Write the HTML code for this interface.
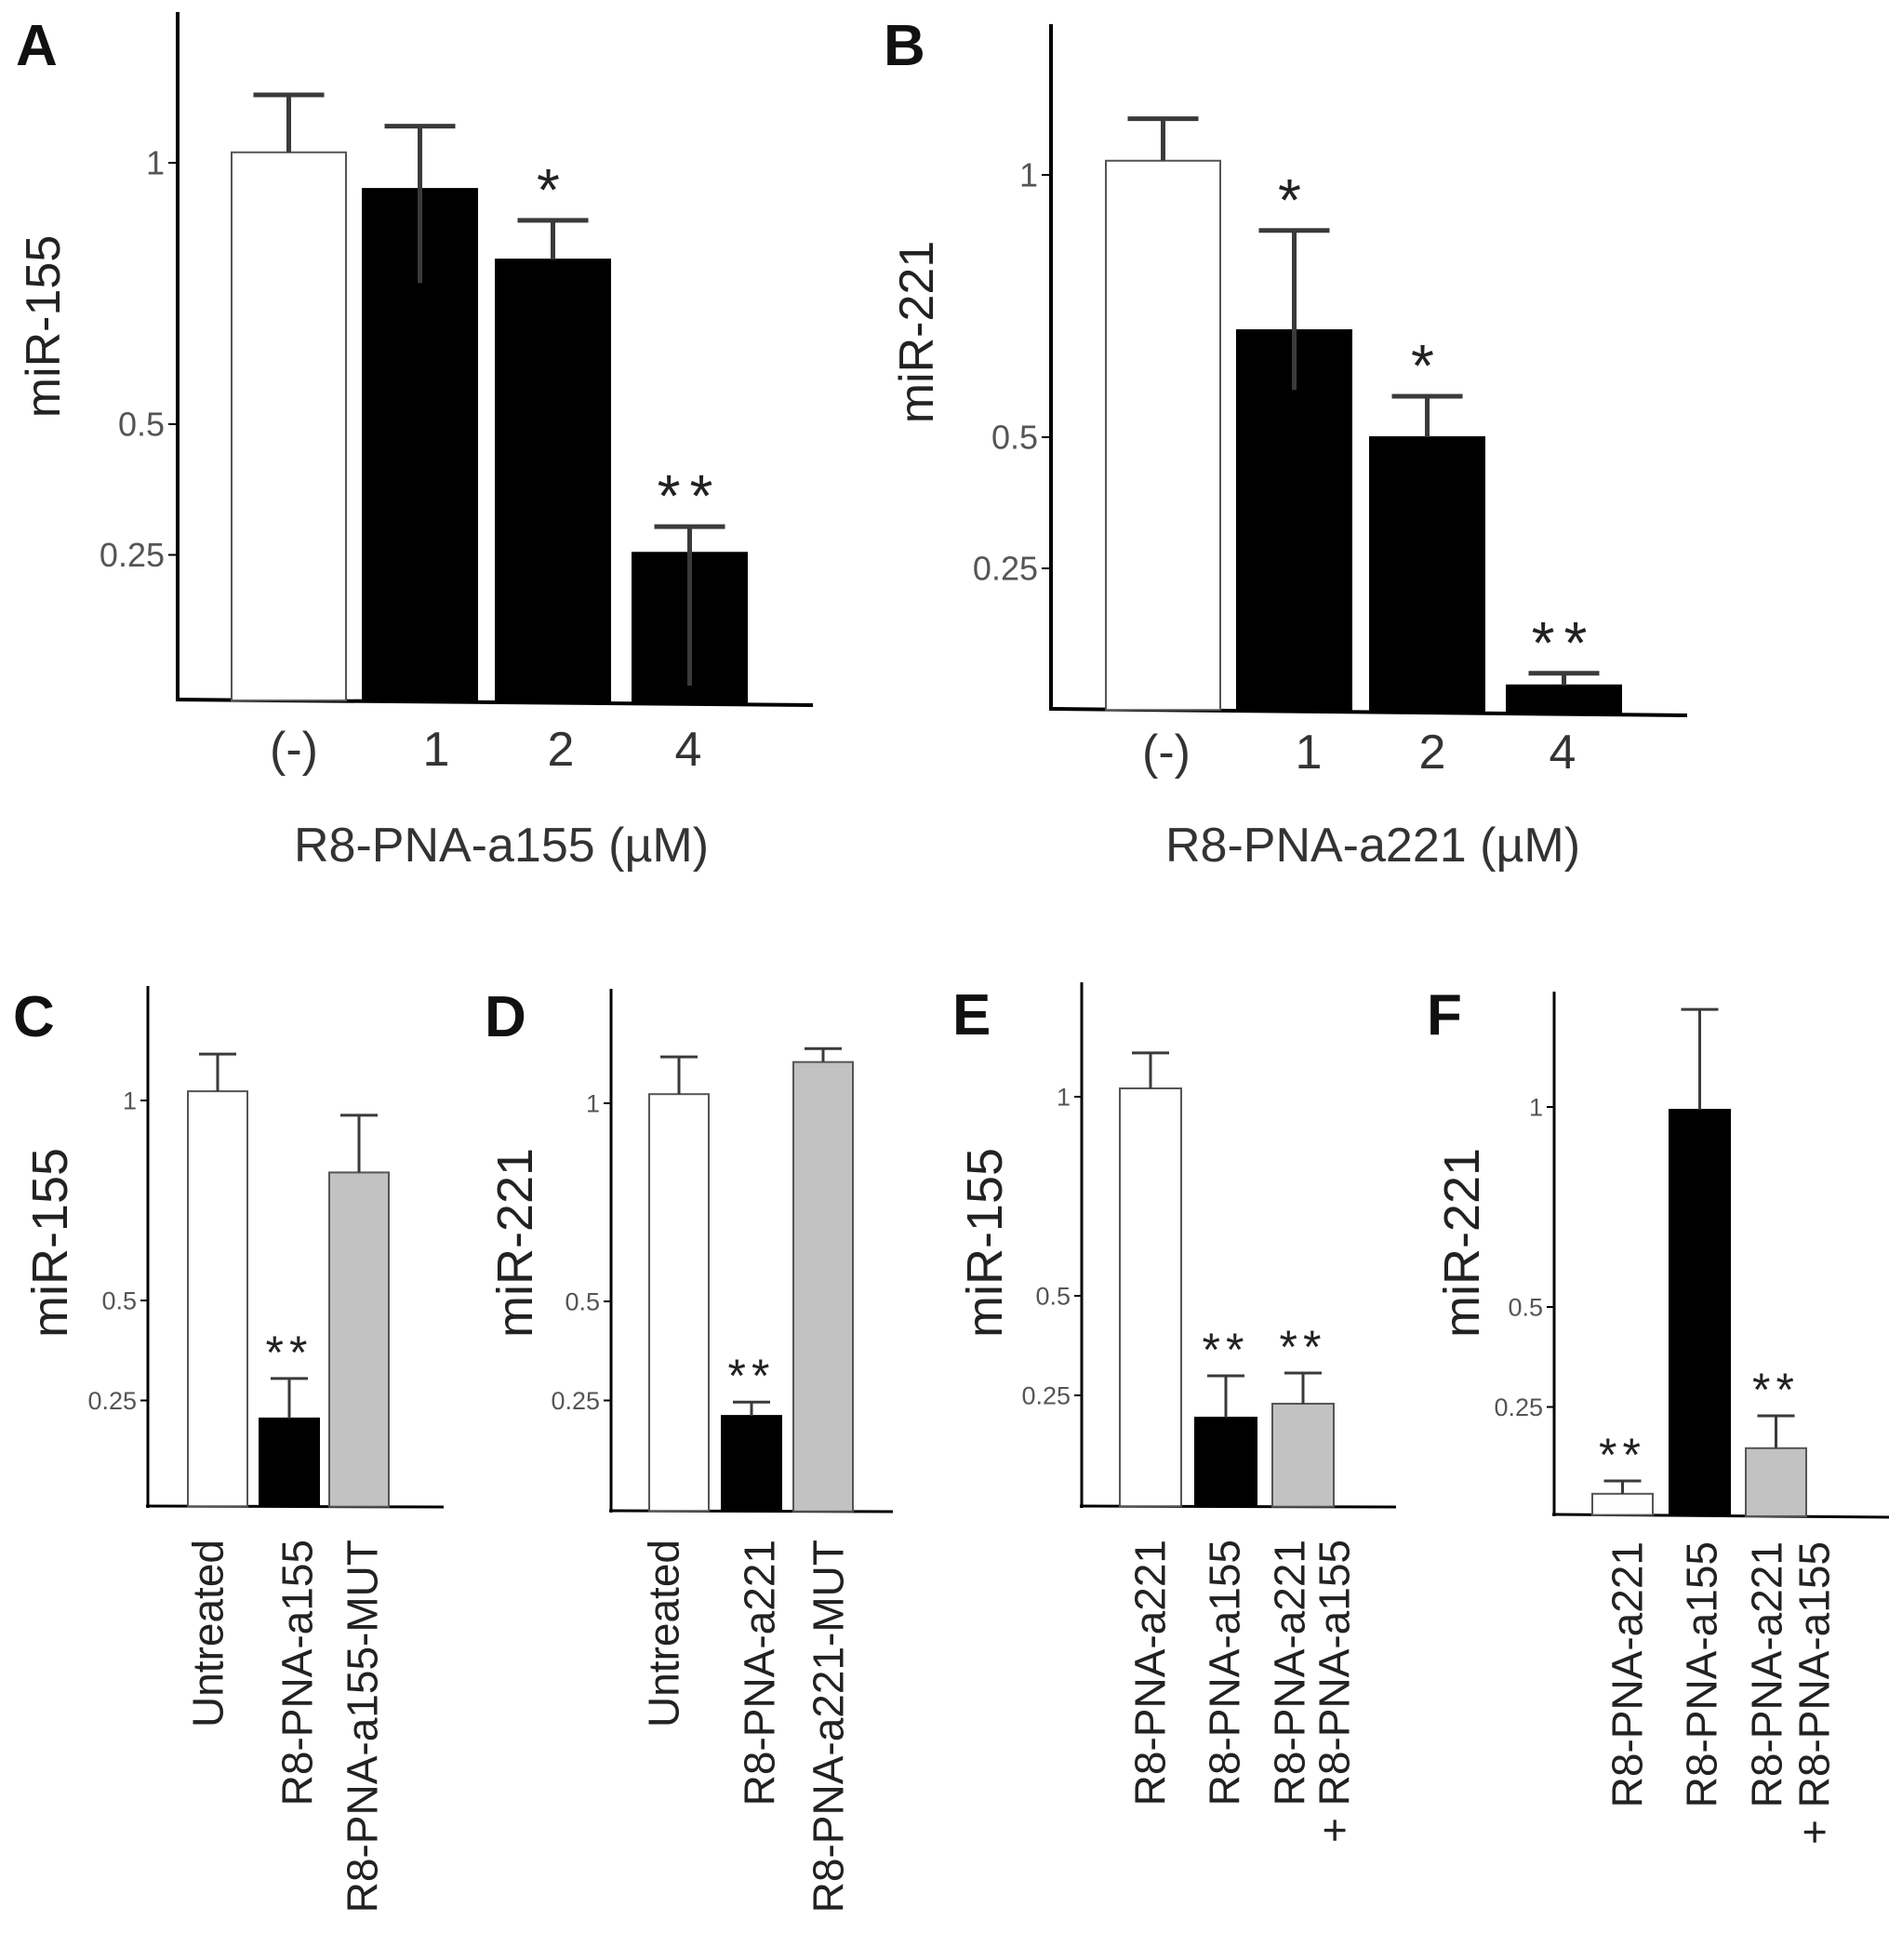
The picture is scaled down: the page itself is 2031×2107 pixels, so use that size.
<!DOCTYPE html>
<html><head><meta charset="utf-8"><style>
html,body{margin:0;padding:0;background:#fff;}
svg{display:block;font-family:"Liberation Sans",sans-serif;}
</style></head><body>
<svg id="fig" width="2031" height="2107" viewBox="0 0 2031 2107" xmlns="http://www.w3.org/2000/svg"></svg>
<script>
// ---- data arrays ----
const catsA = ["(-)", "1", "2", "4"];
const valsA = [1.02, 0.95, 0.815, 0.254];
const errA = [0.11, 0.12, 0.075, 0.05];
const errLowA = [0, 0.18, 0, 0.254];
const fillA = ["white", "black", "black", "black"];
const starsA = ["", "", "*", "**"];

const catsB = ["(-)", "1", "2", "4"];
const valsB = [1.027, 0.704, 0.5, 0.027];
const errB = [0.08, 0.19, 0.078, 0.023];
const errLowB = [0, 0.114, 0, 0];
const fillB = ["white", "black", "black", "black"];
const starsB = ["", "*", "*", "**"];

const catsC = [["Untreated"], ["R8-PNA-a155"], ["R8-PNA-a155-MUT"]];
const valsC = [1.023, 0.205, 0.82];
const errC = [0.093, 0.1, 0.143];
const fillC = ["white", "black", "gray"];
const starsC = ["", "**", ""];

const catsD = [["Untreated"], ["R8-PNA-a221"], ["R8-PNA-a221-MUT"]];
const valsD = [1.023, 0.211, 1.104];
const errD = [0.094, 0.035, 0.034];
const fillD = ["white", "black", "gray"];
const starsD = ["", "**", ""];

const catsE = [["R8-PNA-a221"], ["R8-PNA-a155"], ["R8-PNA-a221", "+ R8-PNA-a155"]];
const valsE = [1.021, 0.194, 0.229];
const errE = [0.089, 0.105, 0.077];
const fillE = ["white", "black", "gray"];
const starsE = ["", "**", "**"];

const catsF = [["R8-PNA-a221"], ["R8-PNA-a155"], ["R8-PNA-a221", "+ R8-PNA-a155"]];
const valsF = [0.033, 0.993, 0.147];
const errF = [0.032, 0.251, 0.081];
const fillF = ["white", "black", "gray"];
const starsF = ["**", "", "**"];

const ticks = [1, 0.5, 0.25];
const tickLabels = ["1", "0.5", "0.25"];

const NS = "http://www.w3.org/2000/svg";
const svg = document.getElementById("fig");
function mk(tag, attrs, parent, text) {
  const e = document.createElementNS(NS, tag);
  for (const k in attrs) e.setAttribute(k, attrs[k]);
  if (text !== undefined) e.textContent = text;
  (parent || svg).appendChild(e);
  return e;
}

function panel(p) {
  const g = mk("g", {});
  
  
  const y = v => p.zeroY - v * p.k;
  const L = mk("text", {x: p.letterX, y: p.letterY, "font-size": p.letterSize, "font-weight": "bold", fill: "#111"}, g, p.id);
  
  
  const ya = mk("line", {x1: p.ax, y1: p.top, x2: p.ax, y2: p.base + 2, stroke: "#000", "stroke-width": p.axW}, g);
  
  
  const xa = mk("line", {x1: p.ax - 2, y1: p.base, x2: p.right, y2: p.baseR, stroke: "#000", "stroke-width": p.axW}, g);
  
  
  ticks.forEach((t, i) => {
    const tk = mk("line", {x1: p.ax - p.tickLen, y1: y(t), x2: p.ax, y2: y(t), stroke: "#000", "stroke-width": 2}, g);
    
    
    const tl = mk("text", {x: p.ax - p.tickLen - 4, y: y(t) + p.tickFont * 0.35, "font-size": p.tickFont, fill: "#555", "text-anchor": "end"}, g, tickLabels[i]);
    
    
  });
  const yt = mk("text", {x: 0, y: 0, "font-size": p.yFont, fill: "#222", "text-anchor": "middle",
    transform: `translate(${p.yTitleX},${p.yTitleY}) rotate(-90)`}, g, p.yTitle);
  
  
  p.vals.forEach((v, i) => {
    const x0 = p.barX[i], w = p.barW;
    const top = y(v);
    const baseAt = p.base + (p.baseR - p.base) * ((x0 + w / 2 - p.ax) / (p.right - p.ax));
    const col = p.fill[i] === "white" ? "#fff" : p.fill[i] === "black" ? "#000" : "#c2c2c2";
    const stroke = p.fill[i] === "black" ? "#000" : "#555";
    const b = mk("rect", {x: x0, y: top, width: w, height: Math.max(0, baseAt - top), fill: col, stroke: stroke, "stroke-width": 2}, g);
    
    
    const cx = x0 + w / 2;
    const eTop = y(v + p.err[i]);
    const eLow = p.errLow ? y(v - p.errLow[i]) : top;
    const eg = mk("g", {stroke: "#3a3a3a", "stroke-width": p.errW}, g);
    
    
    mk("line", {x1: cx, y1: eTop, x2: cx, y2: Math.max(eLow, top)}, eg);
    mk("line", {x1: cx - p.cap / 2, y1: eTop, x2: cx + p.cap / 2, y2: eTop}, eg);
    if (p.stars[i]) {
      const st = mk("text", {x: cx, y: eTop - p.starGap, "font-size": p.starFont, fill: "#222", "text-anchor": "middle", "letter-spacing": p.starSp}, g, p.stars[i]);
      
      
    }
    const cat = p.cats[i];
    if (p.rotated) {
      cat.forEach((line, j) => {
        const lx = p.labX[i] + (cat.length > 1 ? j * p.lineGap : 0) + p.xFont * 0.36;
        const t = mk("text", {x: 0, y: 0, "font-size": p.xFont, fill: "#222", "text-anchor": "end",
          transform: `translate(${lx},${p.labTop}) rotate(-90)`}, g, line);
        
        
      });
    } else {
      const t = mk("text", {x: p.labX[i], y: p.labY, "font-size": p.xFont, fill: "#333", "text-anchor": "middle"}, g, cat);
      
      
    }
  });
  if (p.xTitle) {
    const xt = mk("text", {x: p.xTitleX, y: p.xTitleY, "font-size": p.xFont, fill: "#333", "text-anchor": "middle"}, g, p.xTitle);
    
    
  }
}

panel({id: "A", letterX: 17, letterY: 70, letterSize: 62, ax: 191, top: 13, base: 752, baseR: 758, right: 874,
  zeroY: 737, k: 562, tickLen: 10, tickFont: 36, axW: 4, yTitle: "miR-155", yTitleX: 64, yTitleY: 351, yFont: 52,
  vals: valsA, err: errA, errLow: errLowA, fill: fillA, stars: starsA, cats: catsA, barX: [249, 390, 533, 680], barW: 123,
  errW: 5, cap: 76, starFont: 64, starSp: 10, starGap: 11, rotated: false, labX: [316, 469, 603, 740], labY: 823, xFont: 52,
  xTitle: "R8-PNA-a155 (µM)", xTitleX: 539, xTitleY: 926});

panel({id: "B", letterX: 950, letterY: 70, letterSize: 62, ax: 1130, top: 26, base: 762, baseR: 769, right: 1814,
  zeroY: 752, k: 564, tickLen: 10, tickFont: 36, axW: 4, yTitle: "miR-221", yTitleX: 1003, yTitleY: 357, yFont: 52,
  vals: valsB, err: errB, errLow: errLowB, fill: fillB, stars: starsB, cats: catsB, barX: [1189, 1330, 1473, 1620], barW: 123,
  errW: 5, cap: 76, starFont: 64, starSp: 10, starGap: 11, rotated: false, labX: [1254, 1407, 1540, 1680], labY: 826, xFont: 52,
  xTitle: "R8-PNA-a221 (µM)", xTitleX: 1476, xTitleY: 926});

panel({id: "C", letterX: 14, letterY: 1114, letterSize: 62, ax: 159, top: 1060, base: 1619, baseR: 1620, right: 477,
  zeroY: 1613, k: 430, tickLen: 8, tickFont: 27, axW: 3, yTitle: "miR-155", yTitleX: 72, yTitleY: 1336, yFont: 54,
  vals: valsC, err: errC, fill: fillC, stars: starsC, cats: catsC, barX: [202, 279, 354], barW: 64,
  errW: 3, cap: 40, starFont: 50, starSp: 6, starGap: 11, rotated: true, labX: [223, 319, 389], labTop: 1655, lineGap: 48, xFont: 46});

panel({id: "D", letterX: 521, letterY: 1114, letterSize: 62, ax: 657, top: 1063, base: 1624, baseR: 1625, right: 960,
  zeroY: 1612, k: 426, tickLen: 8, tickFont: 27, axW: 3, yTitle: "miR-221", yTitleX: 572, yTitleY: 1336, yFont: 54,
  vals: valsD, err: errD, fill: fillD, stars: starsD, cats: catsD, barX: [698, 776, 853], barW: 64,
  errW: 3, cap: 40, starFont: 50, starSp: 6, starGap: 11, rotated: true, labX: [713, 816, 890], labTop: 1655, lineGap: 48, xFont: 46});

panel({id: "E", letterX: 1024, letterY: 1112, letterSize: 62, ax: 1163, top: 1056, base: 1619, baseR: 1620, right: 1501,
  zeroY: 1607, k: 428, tickLen: 8, tickFont: 27, axW: 3, yTitle: "miR-155", yTitleX: 1077, yTitleY: 1336, yFont: 54,
  vals: valsE, err: errE, fill: fillE, stars: starsE, cats: catsE, barX: [1204, 1285, 1368], barW: 66,
  errW: 3, cap: 40, starFont: 50, starSp: 6, starGap: 11, rotated: true, labX: [1236, 1316, 1386], labTop: 1655, lineGap: 48, xFont: 46});

panel({id: "F", letterX: 1534, letterY: 1112, letterSize: 62, ax: 1671, top: 1066, base: 1628, baseR: 1631, right: 2031,
  zeroY: 1620, k: 430, tickLen: 8, tickFont: 27, axW: 3, yTitle: "miR-221", yTitleX: 1590, yTitleY: 1336, yFont: 54,
  vals: valsF, err: errF, fill: fillF, stars: starsF, cats: catsF, barX: [1712, 1795, 1877], barW: 65,
  errW: 3, cap: 40, starFont: 50, starSp: 6, starGap: 11, rotated: true, labX: [1749, 1829, 1899], labTop: 1657, lineGap: 51, xFont: 46});
</script>
</body></html>
